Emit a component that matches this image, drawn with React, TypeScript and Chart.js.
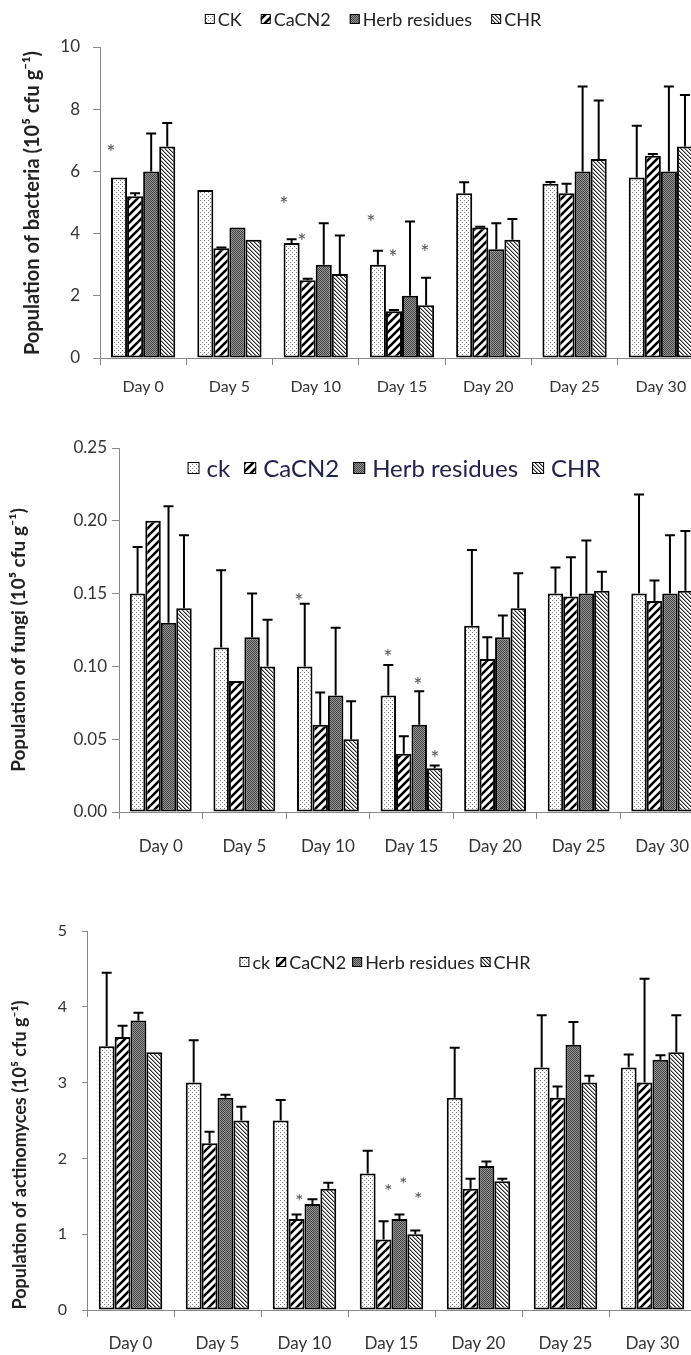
import React, { useEffect, useRef } from "react";
import { Chart, registerables } from "chart.js";

Chart.register(...registerables);
Chart.defaults.font.family = "Lato, 'Open Sans', sans-serif";

// ---------- data ----------
const days = ["Day 0", "Day 5", "Day 10", "Day 15", "Day 20", "Day 25", "Day 30"];
const namesBacteria = ["CK", "CaCN2", "Herb residues", "CHR"];
const namesOther = ["ck", "CaCN2", "Herb residues", "CHR"];

// bacteria (10^5 cfu/g)
const bacteriaCK = [5.8, 5.4, 3.7, 3.0, 5.3, 5.6, 5.8];
const bacteriaCaCN2 = [5.2, 3.53, 2.5, 1.5, 4.2, 5.3, 6.5];
const bacteriaHerb = [6.0, 4.2, 3.0, 2.0, 3.5, 6.0, 6.0];
const bacteriaCHR = [6.8, 3.8, 2.7, 1.7, 3.8, 6.4, 6.8];
const bacteriaCKErr = [0, 0, 0.12, 0.45, 0.35, 0.06, 1.67];
const bacteriaCaCN2Err = [0.1, 0.02, 0.05, 0.04, 0.02, 0.3, 0.06];
const bacteriaHerbErr = [1.22, 0, 1.33, 2.39, 0.83, 2.73, 2.73];
const bacteriaCHRErr = [0.76, 0, 1.24, 0.88, 0.67, 1.88, 1.66];
const bacteriaStarX = [-0.373, 1.632, 1.841, 2.64, 2.895, 3.266];
const bacteriaStarY = [6.77, 5.11, 3.9, 4.51, 3.4, 3.54];
const bacteriaTicks = [0, 2, 4, 6, 8, 10];

// fungi (10^5 cfu/g)
const fungiCK = [0.15, 0.113, 0.1, 0.08, 0.128, 0.15, 0.15];
const fungiCaCN2 = [0.2, 0.09, 0.06, 0.04, 0.105, 0.148, 0.145];
const fungiHerb = [0.13, 0.12, 0.08, 0.06, 0.12, 0.15, 0.15];
const fungiCHR = [0.14, 0.1, 0.05, 0.03, 0.14, 0.152, 0.152];
const fungiCKErr = [0.032, 0.053, 0.043, 0.021, 0.052, 0.018, 0.068];
const fungiCaCN2Err = [0, 0, 0.022, 0.012, 0.015, 0.027, 0.014];
const fungiHerbErr = [0.08, 0.03, 0.0465, 0.023, 0.015, 0.0365, 0.04];
const fungiCHRErr = [0.05, 0.032, 0.026, 0.002, 0.024, 0.013, 0.041];
const fungiStarX = [1.653, 2.718, 3.077, 3.28];
const fungiStarY = [0.148, 0.1096, 0.0906, 0.0405];
const fungiTicks = [0, 0.05, 0.1, 0.15, 0.2, 0.25];

// actinomyces (10^5 cfu/g)
const actinoCK = [3.48, 3.0, 2.5, 1.8, 2.8, 3.2, 3.2];
const actinoCaCN2 = [3.6, 2.2, 1.2, 0.93, 1.6, 2.8, 3.0];
const actinoHerb = [3.82, 2.8, 1.4, 1.2, 1.9, 3.5, 3.3];
const actinoCHR = [3.4, 2.5, 1.6, 1.0, 1.7, 3.0, 3.4];
const actinoCKErr = [0.97, 0.56, 0.27, 0.3, 0.66, 0.69, 0.17];
const actinoCaCN2Err = [0.15, 0.15, 0.06, 0.24, 0.13, 0.15, 1.37];
const actinoHerbErr = [0.1, 0.04, 0.06, 0.06, 0.06, 0.3, 0.06];
const actinoCHRErr = [0, 0.18, 0.08, 0.05, 0.03, 0.09, 0.49];
const actinoStarX = [1.94, 2.963, 3.136, 3.308];
const actinoStarY = [1.49, 1.63, 1.72, 1.52];
const actinoTicks = [0, 1, 2, 3, 4, 5];

// ---------- patterns ----------
function tile(w: number, h: number, draw: (g: CanvasRenderingContext2D) => void) {
  const c = document.createElement("canvas");
  c.width = w;
  c.height = h;
  const g = c.getContext("2d")!;
  draw(g);
  return g.createPattern(c, "repeat")!;
}
function makePatterns() {
  const ck = tile(4, 4, (g) => {
    g.fillStyle = "#fff";
    g.fillRect(0, 0, 4, 4);
    g.fillStyle = "#7a7a7a";
    g.fillRect(0, 0, 1, 1);
    g.fillRect(2, 2, 1, 1);
  });
  const ca = tile(8, 8, (g) => {
    g.fillStyle = "#fff";
    g.fillRect(0, 0, 8, 8);
    g.strokeStyle = "#000";
    g.lineWidth = 2.6;
    g.beginPath();
    g.moveTo(-2, 10);
    g.lineTo(10, -2);
    g.moveTo(-6, 6);
    g.lineTo(6, -6);
    g.moveTo(2, 14);
    g.lineTo(14, 2);
    g.stroke();
  });
  const herb = tile(2, 2, (g) => {
    g.fillStyle = "#959595";
    g.fillRect(0, 0, 2, 2);
    g.fillStyle = "#444";
    g.fillRect(0, 0, 1, 1);
    g.fillRect(1, 1, 1, 1);
  });
  const chr = tile(4, 4, (g) => {
    g.fillStyle = "#fff";
    g.fillRect(0, 0, 4, 4);
    for (let i = 0; i < 4; i++) {
      g.fillStyle = "#2a2a2a";
      g.fillRect(i, i, 1, 1);
      g.fillStyle = "#9a9a9a";
      g.fillRect((i + 1) % 4, i, 1, 1);
    }
  });
  return [ck, ca, herb, chr];
}

// ---------- plugins ----------
const errorBarPlugin = {
  id: "errbars",
  afterDatasetsDraw(chart: any) {
    const ctx = chart.ctx;
    const y = chart.scales.y;
    chart.data.datasets.forEach((ds: any, i: number) => {
      const meta = chart.getDatasetMeta(i);
      meta.data.forEach((bar: any, j: number) => {
        const e = ds.errors[j];
        if (!e) return;
        const top = y.getPixelForValue(ds.data[j] + e);
        const x = bar.x;
        ctx.save();
        ctx.strokeStyle = "#000";
        ctx.lineWidth = 2;
        ctx.beginPath();
        ctx.moveTo(x, bar.y);
        ctx.lineTo(x, top);
        ctx.moveTo(x - 5, top);
        ctx.lineTo(x + 5, top);
        ctx.stroke();
        ctx.restore();
      });
    });
  },
};

const starPlugin = {
  id: "stars",
  afterDatasetsDraw(chart: any, _a: any, o: any) {
    const ctx = chart.ctx;
    ctx.save();
    ctx.fillStyle = o.color;
    ctx.font = `${o.size}px Lato, sans-serif`;
    ctx.textAlign = "center";
    ctx.textBaseline = "alphabetic";
    for (let i = 0; i < o.xs.length; i++) {
      const px = chart.scales.x.getPixelForValue(o.xs[i]);
      const py = chart.scales.y.getPixelForValue(o.ys[i]);
      ctx.fillText("*", px, py + o.size * 0.57);
    }
    ctx.restore();
  },
};

const legendPlugin = {
  id: "patLegend",
  afterDraw(chart: any, _a: any, o: any) {
    const ctx = chart.ctx;
    ctx.save();
    ctx.font = `${o.size}px Lato, sans-serif`;
    const items = chart.data.datasets.map((d: any) => ({ label: d.label, fill: d.backgroundColor }));
    const widths = items.map((it: any) => o.box + o.textGap + ctx.measureText(it.label).width);
    const total = widths.reduce((a: number, b: number) => a + b, 0) + o.itemGap * (items.length - 1);
    let x = o.cx - total / 2;
    items.forEach((it: any, i: number) => {
      ctx.fillStyle = it.fill;
      ctx.fillRect(x, o.cy - o.box / 2, o.box, o.box);
      ctx.strokeStyle = "#000";
      ctx.lineWidth = 1;
      ctx.strokeRect(x + 0.5, o.cy - o.box / 2 + 0.5, o.box - 1, o.box - 1);
      ctx.fillStyle = o.color;
      ctx.textBaseline = "middle";
      ctx.textAlign = "left";
      ctx.fillText(it.label, x + o.box + o.textGap, o.cy + 1);
      x += widths[i] + o.itemGap;
    });
    ctx.restore();
  },
};

const yTitlePlugin = {
  id: "yTitle",
  afterDraw(chart: any, _a: any, o: any) {
    const ctx = chart.ctx;
    ctx.save();
    ctx.translate(o.x, o.y);
    ctx.rotate(-Math.PI / 2);
    ctx.font = `bold ${o.size}px Lato, sans-serif`;
    ctx.fillStyle = "#222";
    ctx.textAlign = "center";
    ctx.textBaseline = "middle";
    ctx.fillText(o.text, 0, 0);
    ctx.restore();
  },
};

// ---------- panel ----------
type PanelCfg = {
  top: number;
  w: number;
  h: number;
  names: string[];
  values: number[][];
  errors: number[][];
  ticks: number[];
  decimals: number;
  yTitle: any;
  padding: { left: number; top: number; right: number; bottom: number };
  yWidth: number;
  xHeight: number;
  yTickLen: number;
  yTickPad: number;
  tickSize: number;
  xTickPad: number;
  xSize: number;
  catPct: number;
  legend: any;
  stars: any;
};

function Panel({ cfg }: { cfg: PanelCfg }) {
  const ref = useRef<HTMLCanvasElement>(null);
  useEffect(() => {
    const pats = makePatterns();
    const tickVals = cfg.ticks;
    const chart = new Chart(ref.current!, {
      type: "bar",
      data: {
        labels: days,
        datasets: cfg.values.map((v, i) => ({
          label: cfg.names[i],
          data: v,
          errors: cfg.errors[i],
          backgroundColor: pats[i],
          borderColor: "#000",
          borderWidth: 2,
          borderSkipped: false,
          categoryPercentage: cfg.catPct,
          barPercentage: 1,
        })) as any,
      },
      options: {
        responsive: false,
        animation: false,
        devicePixelRatio: 1,
        layout: { padding: cfg.padding },
        plugins: {
          legend: { display: false },
          tooltip: { enabled: false },
          patLegend: cfg.legend,
          stars: cfg.stars,
          yTitle: cfg.yTitle,
        } as any,
        scales: {
          x: {
            grid: { offset: true, drawOnChartArea: false, drawTicks: true, tickLength: 7, color: "#888" },
            border: { color: "#888", width: 1 },
            ticks: { color: "#333", font: { size: cfg.xSize }, padding: cfg.xTickPad, maxRotation: 0, autoSkip: false },
            afterFit: (s: any) => {
              s.height = cfg.xHeight;
            },
          },
          y: {
            min: tickVals[0],
            max: tickVals[tickVals.length - 1],
            afterBuildTicks: (s: any) => {
              s.ticks = tickVals.map((v) => ({ value: v }));
            },
            ticks: {
              color: "#333",
              font: { size: cfg.tickSize },
              padding: cfg.yTickPad,
              callback: (v: any) => Number(v).toFixed(cfg.decimals),
            },
            grid: { drawOnChartArea: false, drawTicks: true, tickLength: cfg.yTickLen, color: "#888" },
            border: { color: "#888", width: 1 },
            afterFit: (s: any) => {
              s.width = cfg.yWidth;
            },
          },
        },
      } as any,
      plugins: [errorBarPlugin, starPlugin, legendPlugin, yTitlePlugin],
    });
    return () => chart.destroy();
  }, []);
  return (
    <canvas
      ref={ref}
      width={cfg.w}
      height={cfg.h}
      style={{ position: "absolute", left: 0, top: cfg.top, width: cfg.w, height: cfg.h }}
    />
  );
}

const panels: PanelCfg[] = [
  {
    top: 0,
    w: 712,
    h: 400,
    names: namesBacteria,
    values: [bacteriaCK, bacteriaCaCN2, bacteriaHerb, bacteriaCHR],
    errors: [bacteriaCKErr, bacteriaCaCN2Err, bacteriaHerbErr, bacteriaCHRErr],
    ticks: bacteriaTicks,
    decimals: 0,
    yTitle: { text: "Population of bacteria (10⁵ cfu g⁻¹)", x: 33, y: 203, size: 20 },
    padding: { left: 12, top: 47, right: 8, bottom: 0 },
    yWidth: 88,
    xHeight: 42,
    yTickLen: 7,
    yTickPad: 13,
    tickSize: 17,
    xTickPad: 12,
    xSize: 16,
    catPct: 0.745,
    legend: { cx: 373, cy: 19, box: 10, size: 18, textGap: 3, itemGap: 19, color: "#222" },
    stars: { xs: bacteriaStarX, ys: bacteriaStarY, size: 22, color: "#555" },
  },
  {
    top: 420,
    w: 712,
    h: 440,
    names: namesOther,
    values: [fungiCK, fungiCaCN2, fungiHerb, fungiCHR],
    errors: [fungiCKErr, fungiCaCN2Err, fungiHerbErr, fungiCHRErr],
    ticks: fungiTicks,
    decimals: 2,
    yTitle: { text: "Population of fungi (10⁵ cfu g⁻¹)", x: 19, y: 220, size: 19 },
    padding: { left: 0, top: 28, right: 8, bottom: 0 },
    yWidth: 119,
    xHeight: 48,
    yTickLen: 7,
    yTickPad: 5,
    tickSize: 17,
    xTickPad: 17,
    xSize: 17,
    catPct: 0.74,
    legend: { cx: 394, cy: 48, box: 12, size: 24, textGap: 7, itemGap: 14, color: "#22224a" },
    stars: { xs: fungiStarX, ys: fungiStarY, size: 22, color: "#555" },
  },
  {
    top: 900,
    w: 704,
    h: 455,
    names: namesOther,
    values: [actinoCK, actinoCaCN2, actinoHerb, actinoCHR],
    errors: [actinoCKErr, actinoCaCN2Err, actinoHerbErr, actinoCHRErr],
    ticks: actinoTicks,
    decimals: 0,
    yTitle: { text: "Population of actinomyces (10⁵ cfu g⁻¹)", x: 20, y: 255, size: 18 },
    padding: { left: 0, top: 31, right: 8, bottom: 0 },
    yWidth: 87,
    xHeight: 45,
    yTickLen: 5,
    yTickPad: 15,
    tickSize: 16,
    xTickPad: 16,
    xSize: 17,
    catPct: 0.73,
    legend: { cx: 385, cy: 62, box: 10, size: 18, textGap: 3, itemGap: 6, color: "#222" },
    stars: { xs: actinoStarX, ys: actinoStarY, size: 20, color: "#555" },
  },
];

export default function App() {
  return (
    <div
      style={{
        position: "absolute",
        left: 0,
        top: 0,
        width: 691,
        height: 1355,
        overflow: "hidden",
        background: "#fff",
      }}
    >
      {panels.map((p, i) => (
        <Panel key={i} cfg={p} />
      ))}
    </div>
  );
}
